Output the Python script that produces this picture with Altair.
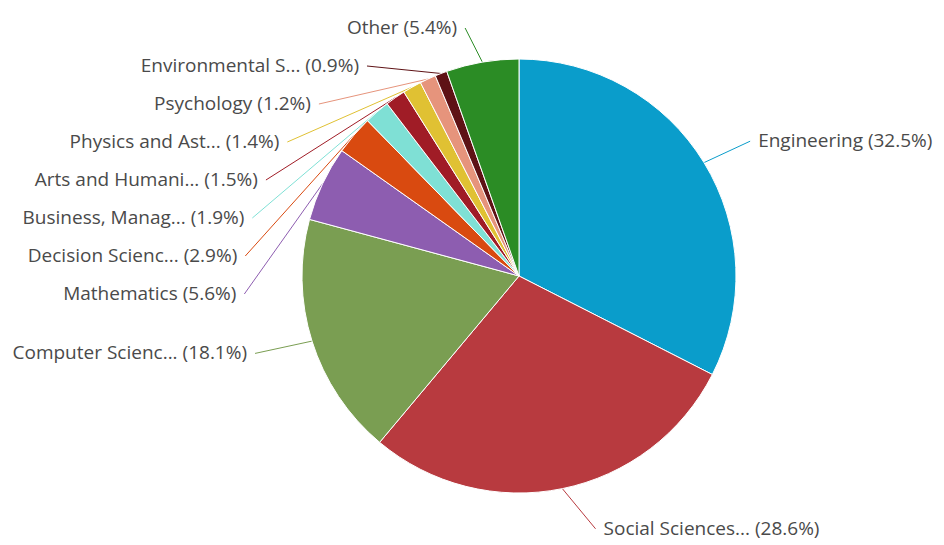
import math
import altair as alt
import pandas as pd

# ---- data ----
names = ["Engineering", "Social Sciences...", "Computer Scienc...", "Mathematics",
         "Decision Scienc...", "Business, Manag...", "Arts and Humani...",
         "Physics and Ast...", "Psychology", "Environmental S...", "Other"]
values = [32.5, 28.6, 18.1, 5.6, 2.9, 1.9, 1.5, 1.4, 1.2, 0.9, 5.4]
colors = ["#0a9dcb", "#b83a3f", "#7a9e52", "#8d5db0", "#d94a10", "#7fe0d5",
          "#a01c26", "#e0c133", "#e6947c", "#5e1215", "#2b8c25"]

# ---- layout constants ----
W, H = 944, 545
CX, CY, R = 519, 276, 217
RN = 258           # radius of natural label position
RX, RY = 275, 258  # ellipse on which label connectors end
ECY = CY + 5       # ellipse centre y
GAP = 8
TOP, BOTTOM, SPACING = 28, 535, 38

total = sum(values)
rows = []
cum = 0.0
for i, (n, v) in enumerate(zip(names, values)):
    mid = (cum + v / 2) / total * 2 * math.pi
    cum += v
    rows.append(dict(idx=i, name=n, value=v, label=f"{n} ({v}%)",
                     side="right" if math.sin(mid) > 0 else "left",
                     ty=CY - math.cos(mid) * RN,
                     ex=CX + math.sin(mid) * R, ey=CY - math.cos(mid) * R))

for side in ["left", "right"]:
    grp = sorted([r for r in rows if r["side"] == side], key=lambda r: r["ty"])
    prev = None
    for r in grp:
        y = max(r["ty"], TOP)
        if prev is not None:
            y = max(y, prev + SPACING)
        y = min(y, BOTTOM)
        r["ly"] = y
        prev = y
        dy = y - ECY
        k = max(0.0, 1 - (dy / RY) ** 2)
        sign = 1 if side == "right" else -1
        r["lx"] = CX + sign * RX * math.sqrt(k)
        r["tx"] = r["lx"] + sign * GAP

df = pd.DataFrame(rows)

xs = alt.Scale(domain=[0, W], range=[0, W])
ys = alt.Scale(domain=[0, H], range=[0, H])
cscale = alt.Scale(domain=names, range=colors)

base = alt.Chart(df)

pie = base.mark_arc(radius=R, stroke="white", strokeWidth=1).encode(
    theta=alt.Theta("value:Q", stack=True),
    order=alt.Order("idx:Q"),
    color=alt.Color("name:N", scale=cscale, legend=None),
    x=alt.value(CX),
    y=alt.value(CY),
)

rules = base.mark_rule(strokeWidth=1).encode(
    x=alt.X("ex:Q", scale=xs, axis=None),
    y=alt.Y("ey:Q", scale=ys, axis=None),
    x2="lx:Q",
    y2="ly:Q",
    color=alt.Color("name:N", scale=cscale, legend=None),
)

txt_style = dict(baseline="middle", font="Open Sans", fontSize=19, color="#4a4a4a")
left_txt = base.transform_filter("datum.side == 'left'").mark_text(align="right", **txt_style).encode(
    x=alt.X("tx:Q", scale=xs, axis=None),
    y=alt.Y("ly:Q", scale=ys, axis=None),
    text="label:N",
)
right_txt = base.transform_filter("datum.side == 'right'").mark_text(align="left", **txt_style).encode(
    x=alt.X("tx:Q", scale=xs, axis=None),
    y=alt.Y("ly:Q", scale=ys, axis=None),
    text="label:N",
)

chart = alt.layer(rules, pie, left_txt, right_txt).properties(
    width=W, height=H, padding=0, autosize="none", background="white"
).configure_view(stroke=None)

chart.save("out.html", embed_options={"renderer": "svg", "actions": False})
